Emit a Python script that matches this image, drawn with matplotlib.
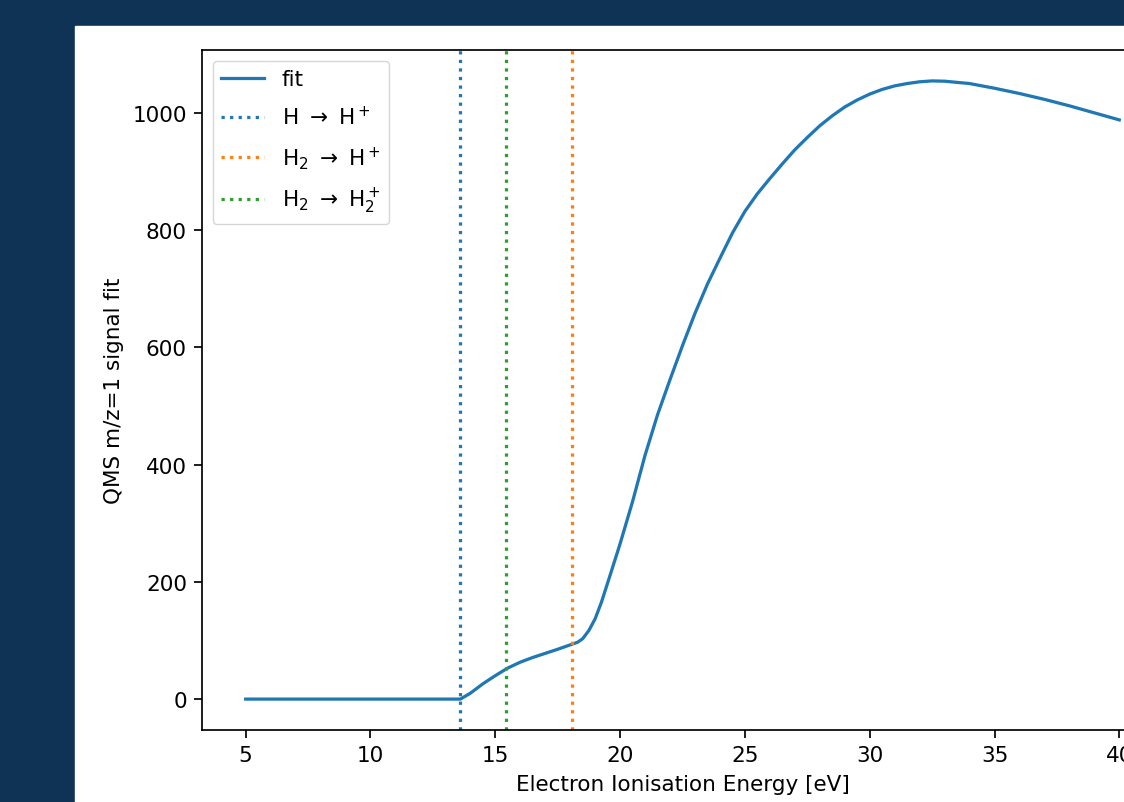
import matplotlib
matplotlib.use("Agg")
import matplotlib.pyplot as plt
from matplotlib.patches import Rectangle

# fitted QMS m/z=1 signal
energy = [5.0, 13.6, 14.0, 14.5, 15.0, 15.5, 16.0, 16.5, 17.0, 17.5, 18.1,
          18.3, 18.5, 18.75, 19.0, 19.25, 19.5, 20.0, 20.5, 21.0, 21.5,
          22.0, 22.5, 23.0, 23.5, 24.0, 24.5, 25.0, 25.5, 26.0, 26.5, 27.0,
          27.5, 28.0, 28.5, 29.0, 29.5, 30.0, 30.5, 31.0, 31.5, 32.0, 32.5,
          33.0, 34.0, 35.0, 36.0, 37.0, 38.0, 39.0, 40.0]
signal = [0, 0, 10, 26, 40, 53, 63, 71, 78, 85, 94,
          97, 103, 117, 137, 165, 198, 265, 337, 416, 485,
          545, 603, 658, 708, 752, 795, 832, 862, 888, 913, 937,
          958, 978, 995, 1010, 1022, 1032, 1040, 1046, 1050, 1053, 1054.5,
          1054, 1050, 1042, 1033, 1023, 1012, 1000, 988]

# ionisation thresholds [eV]
thresholds = [13.6, 18.08, 15.43]
threshold_labels = [
    r"H $\rightarrow$ H$^+$",
    r"H$_2$ $\rightarrow$ H$^+$",
    r"H$_2$ $\rightarrow$ H$_2^+$",
]
threshold_colors = ["tab:blue", "tab:orange", "tab:green"]

W, H = 1124, 803
s = 1.55  # the screenshot shows the figure scaled up from the defaults
plt.rcParams.update({
    "font.size": 10 * s,
    "axes.linewidth": 0.8 * s,
    "lines.linewidth": 1.5 * s,
    "xtick.major.width": 0.8 * s,
    "ytick.major.width": 0.8 * s,
    "xtick.major.size": 3.5 * s,
    "ytick.major.size": 3.5 * s,
    "xtick.major.pad": 3.5 * s,
    "ytick.major.pad": 3.5 * s,
    "axes.labelpad": 4.0 * s,
})

fig = plt.figure(figsize=(W / 100, H / 100), dpi=100, facecolor="#0f3354")
# white figure area of the screenshot, kept behind the axes
fig.patches.append(Rectangle((75 / W, 0), 1 - 75 / W, (H - 27) / H,
                             transform=fig.transFigure, color="white",
                             zorder=-10))

ax = fig.add_axes([202 / W, 72 / H, 961 / W, 680 / H])
ax.set_zorder(5)
ax.plot(energy, signal, color="tab:blue", label="fit")
for e, lab, c in zip(thresholds, threshold_labels, threshold_colors):
    ax.axvline(e, color=c, ls=":", label=lab)

ax.set_xlabel("Electron Ionisation Energy [eV]")
ax.set_ylabel("QMS m/z=1 signal fit")
ax.legend(loc="upper left", labelspacing=0.72)

fig.savefig("out.png", dpi=100, facecolor=fig.get_facecolor())
